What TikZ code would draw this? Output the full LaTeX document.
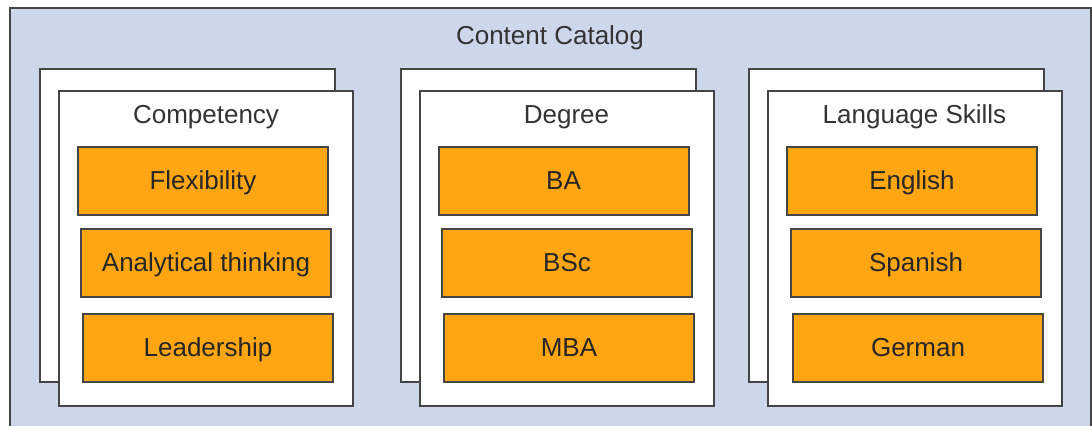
\documentclass[tikz,border=0pt]{standalone}
\usepackage{fontspec}
\setmainfont{Liberation Sans}
\usepackage{tikz}
\definecolor{catalogBlue}{HTML}{CCD8EA}
\definecolor{itemOrange}{HTML}{FFA612}
\definecolor{frameGray}{HTML}{454545}
\definecolor{titleGray}{HTML}{333333}

\begin{document}
\begin{tikzpicture}[
  x=0.5pt,
  y=-0.5pt,
  every node/.style={
    font=\fontsize{13}{15}\selectfont,
    inner sep=0pt,
    text height=9.5pt,
    text depth=2.7pt,
    rectangle,
  },
  catalog/.style={
    draw=frameGray,
    line width=1pt,
    fill=catalogBlue,
    minimum width=540.5pt,
    minimum height=230pt,
  },
  shadow card/.style={
    draw=frameGray,
    line width=1pt,
    fill=white,
    minimum width=147.5pt,
    minimum height=156.5pt,
  },
  card/.style={
    draw=frameGray,
    line width=1pt,
    fill=white,
    minimum width=147pt,
    minimum height=157.5pt,
  },
  card title/.style={
    text=titleGray,
  },
  item/.style={
    draw=frameGray,
    line width=1pt,
    fill=itemOrange,
    text=black!85,
    text height=11.5pt,
    minimum width=125pt,
    minimum height=34pt,
  },
]
\useasboundingbox (0,0) rectangle (1092,425);
\clip (0,0) rectangle (1092,425);
\node[catalog] (catalog) at (550.5,238) {};
\node[card title] (catalogTitle) at (550,37.5) {Content Catalog};
% competency column
\node[shadow card] (compShadow) at (187.5,225.5) {};
\node[card] (comp) at (206,248.5) {};
\node[card title] (compTitle) at ([yshift=-13.5pt]comp.north) {Competency};
\node[item] (flex) at (203,181) {Flexibility};
\node[item] (analyt) at (206,262.5) {Analytical thinking};
\node[item] (lead) at (208,347.5) {Leadership};
\begin{scope}[shift={(360,0)}]
\node[shadow card] (degShadow) at (188,225.5) {};
\node[card] (deg) at (206.5,248.5) {};
\node[card title] (degTitle) at ([yshift=-13.5pt]deg.north) {Degree};
\node[item] (ba) at (203.5,181) {BA};
\node[item] (bsc) at (207,262.5) {BSc};
\node[item] (mba) at (209,347.5) {MBA};
\end{scope}
\begin{scope}[shift={(708,0)}]
\node[shadow card] (langShadow) at (188.5,225.5) {};
\node[card] (lang) at (206.5,248.5) {};
\node[card title] (langTitle) at ([yshift=-13.5pt]lang.north) {Language Skills};
\node[item] (english) at (204,181) {English};
\node[item] (spanish) at (208,262.5) {Spanish};
\node[item] (german) at (210,347.5) {German};
\end{scope}
\end{tikzpicture}
\end{document}
